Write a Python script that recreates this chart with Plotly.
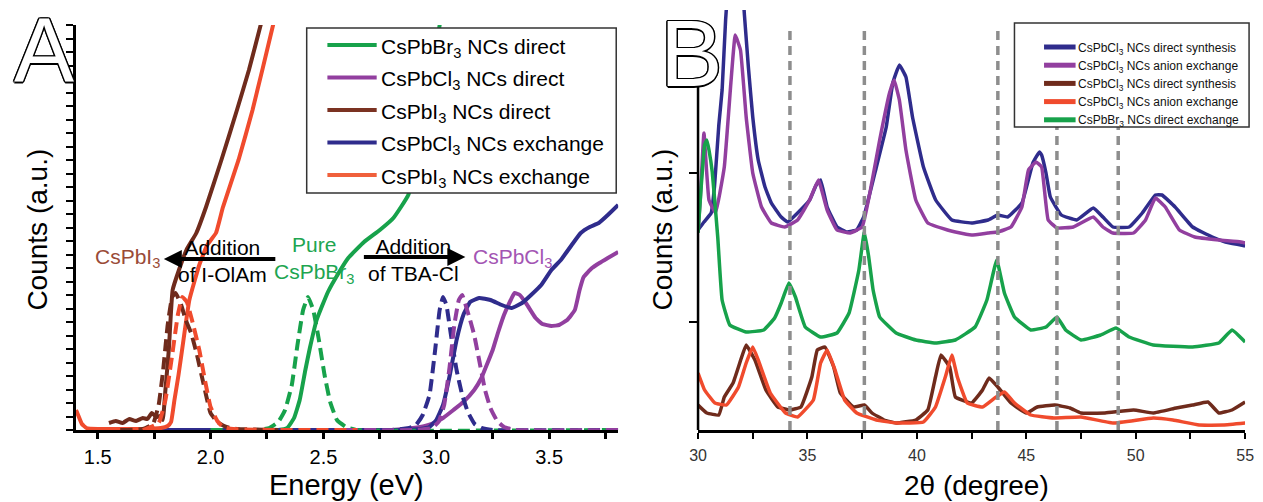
import plotly.graph_objects as go

W, H = 1263, 502
FONT = "Liberation Sans, Arial, sans-serif"

GREEN = "#17a24b"
PURPLE = "#923f9f"
BROWN = "#6f2b1c"
NAVY = "#2f2c8c"
RED = "#f04b2d"
GRAY = "#8d8d8d"

# ---------------- Panel A: absorption (solid) and PL (dashed) vs energy (eV) ----------------
br_abs_E = [1.55, 2.30, 2.34, 2.37, 2.395, 2.42, 2.44, 2.47, 2.52, 2.57, 2.61, 2.68, 2.75, 2.81, 2.876, 2.93, 2.97, 3.015, 3.04]
br_abs_I = [0, 0, 2, 12, 30, 60, 82, 110, 138, 158, 172, 188, 200, 212, 235, 290, 340, 405, 440]
br_pl_E = [2.00, 2.20, 2.26, 2.30, 2.33, 2.36, 2.385, 2.41, 2.432, 2.455, 2.48, 2.505, 2.53, 2.56, 2.60, 2.65, 3.806]
br_pl_I = [0, 0, 2, 8, 20, 45, 85, 120, 133, 120, 90, 55, 28, 10, 3, 0, 0]

cl_abs_E = [1.55, 2.80, 2.897, 2.95, 2.989, 3.03, 3.076, 3.12, 3.168, 3.20, 3.22, 3.25, 3.273, 3.30, 3.33,
            3.347, 3.37, 3.40, 3.44, 3.47, 3.51, 3.544, 3.58, 3.614, 3.635, 3.653, 3.69, 3.723, 3.76, 3.806]
cl_abs_I = [0, 0, 2, 4, 7, 12, 20, 28, 40, 52, 63, 80, 97, 115, 130,
            137, 135, 126, 112, 106, 104, 105, 110, 120, 140, 153, 162, 167, 172, 178]
cl_pl_E = [2.60, 2.90, 2.98, 3.01, 3.035, 3.059, 3.08, 3.10, 3.115, 3.13, 3.15, 3.168, 3.19, 3.216, 3.24, 3.27, 3.30, 3.35, 3.806]
cl_pl_I = [0, 0, 2, 8, 25, 63, 105, 130, 135, 125, 110, 95, 70, 40, 22, 9, 3, 0, 0]

i_abs_E = [1.55, 1.58, 1.61, 1.64, 1.67, 1.70, 1.72, 1.74, 1.76, 1.775, 1.788, 1.80, 1.815, 1.832, 1.86,
           1.893, 1.937, 1.98, 2.048, 2.117, 2.17, 2.222, 2.26]
i_abs_I = [7, 9, 7, 11, 9, 12, 11, 17, 13, 14, 10, 40, 80, 140, 160, 180, 197, 223, 270, 320, 360, 405, 440]
i_pl_E = [1.60, 1.70, 1.745, 1.77, 1.79, 1.81, 1.83, 1.845, 1.87, 1.89, 1.914, 1.94, 1.97, 2.0, 2.03, 2.07, 2.12, 2.30]
i_pl_I = [0, 1, 6, 25, 60, 105, 133, 137, 125, 110, 97, 75, 45, 17, 8, 3, 1, 0]

clx_abs_E = [1.55, 2.85, 2.93, 2.97, 3.0, 3.03, 3.06, 3.09, 3.12, 3.15, 3.19, 3.24, 3.29, 3.334, 3.38,
             3.42, 3.465, 3.51, 3.552, 3.60, 3.64, 3.68, 3.72, 3.76, 3.806]
clx_abs_I = [0, 0, 1, 3, 10, 25, 55, 90, 115, 128, 132, 130, 125, 122, 127,
             135, 145, 160, 170, 185, 197, 203, 207, 215, 225]
clx_pl_E = [2.60, 2.80, 2.88, 2.91, 2.94, 2.97, 2.995, 3.015, 3.03, 3.045, 3.065, 3.09, 3.115, 3.14, 3.17, 3.20, 3.25, 3.806]
clx_pl_I = [0, 0, 2, 5, 15, 35, 80, 120, 133, 125, 95, 60, 35, 18, 6, 2, 0, 0]

ix_abs_E = [1.404, 1.415, 1.43, 1.45, 1.50, 1.60, 1.70, 1.78, 1.81, 1.825, 1.84, 1.858, 1.88, 1.906, 1.95,
            1.985, 2.024, 2.055, 2.124, 2.186, 2.277, 2.31]
ix_abs_I = [20, 14, 6, 2, 1, 1, 1, 2, 4, 8, 30, 55, 90, 130, 165, 185, 197, 223, 270, 320, 405, 440]
ix_pl_E = [1.70, 1.77, 1.80, 1.83, 1.855, 1.875, 1.895, 1.92, 1.95, 1.975, 2.0, 2.03, 2.055, 2.1, 2.3, 2.65]
ix_pl_I = [0, 7, 30, 75, 115, 133, 128, 108, 80, 50, 23, 9, 3, 1, 0, 0]

energy_ticks = [1.5, 2.0, 2.5, 3.0, 3.5]

# ---------------- Panel B: XRD patterns vs 2-theta ----------------
cl_dir_2t = [30.0, 30.27, 30.6, 30.75, 30.95, 31.1, 31.26, 31.45, 31.7, 31.95, 32.12, 32.3, 32.5, 32.75, 33.06,
             33.35, 33.8, 34.1, 34.55, 35.1, 35.4, 35.6, 35.9, 36.35, 36.8, 37.25, 37.57, 38.15, 38.6, 38.9,
             39.2, 39.5, 39.8, 40.3, 40.86, 41.6, 42.5, 43.25, 43.7, 44.15, 44.8, 45.3, 45.6, 45.7, 45.9,
             46.1, 46.6, 47.3, 48.06, 48.5, 48.96, 49.7, 50.3, 50.9, 51.2, 51.8, 52.6, 53.5, 54.1, 54.8, 55.0]
cl_dir_I = [200, 208, 217, 243, 305, 340, 410, 470, 520, 470, 415, 363, 313, 270, 243,
            227, 213, 208, 217, 230, 245, 250, 223, 203, 198, 200, 213, 263, 303, 347,
            365, 353, 313, 263, 230, 210, 207, 210, 215, 213, 227, 267, 278, 275, 257,
            233, 215, 210, 222, 213, 203, 203, 217, 235, 235, 223, 203, 193, 188, 185, 184]

cl_ex_2t = [30.0, 30.1, 30.27, 30.5, 30.8, 31.2, 31.5, 31.7, 31.94, 32.2, 32.5, 32.9, 33.35, 33.96, 34.55,
            35.1, 35.5, 35.9, 36.35, 36.95, 37.5, 37.85, 38.3, 38.75, 38.96, 39.2, 39.5, 39.95, 40.5, 41.4,
            41.76, 42.5, 43.25, 43.7, 44.3, 44.8, 45.1, 45.45, 45.7, 46.0, 46.4, 47.15, 48.06, 48.5, 48.96,
            49.9, 50.45, 50.9, 51.35, 52.0, 52.7, 53.8, 54.8, 55.0]
cl_ex_I = [198, 230, 297, 230, 217, 263, 347, 395, 380, 313, 257, 223, 207, 203, 210,
           230, 250, 220, 200, 197, 203, 237, 290, 337, 350, 330, 280, 230, 207, 200,
           198, 195, 197, 198, 203, 223, 260, 268, 263, 210, 202, 203, 213, 203, 197,
           197, 210, 232, 223, 200, 193, 190, 188, 187]

br_2t = [30.0, 30.15, 30.3, 30.4, 30.5, 30.65, 30.9, 31.1, 31.45, 32.2, 33.0, 33.5, 33.8, 34.15, 34.45,
         34.9, 35.6, 36.35, 36.9, 37.35, 37.6, 37.8, 38.0, 38.3, 39.05, 39.95, 40.85, 41.76, 42.66, 43.2,
         43.65, 44.0, 44.46, 45.2, 45.9, 46.4, 46.8, 47.5, 48.4, 49.1, 49.7, 50.8, 52.6, 53.8, 54.4, 55.0]
br_I = [197, 245, 285, 290, 280, 258, 193, 130, 105, 98, 100, 112, 127, 147, 133,
        103, 93, 97, 117, 160, 198, 173, 140, 113, 97, 90, 87, 90, 103, 130,
        170, 137, 113, 100, 103, 113, 100, 90, 95, 102, 93, 85, 83, 87, 100, 88]

i_dir_2t = [30.0, 30.4, 30.95, 31.2, 31.6, 31.95, 32.2, 32.6, 33.1, 33.65, 34.2, 34.7, 35.2, 35.45, 35.8,
            36.2, 36.5, 37.1, 37.6, 37.95, 38.5, 39.05, 39.95, 40.5, 40.85, 41.1, 41.5, 41.76, 42.5, 43.0,
            43.3, 43.7, 44.3, 45.0, 45.5, 46.3, 47.0, 47.5, 48.6, 49.9, 50.8, 51.85, 52.6, 53.3, 53.8, 54.4, 55.0]
i_dir_I = [25, 17, 15, 33, 47, 70, 85, 70, 40, 23, 20, 23, 53, 80, 83,
           63, 37, 23, 25, 17, 10, 7, 10, 20, 53, 75, 63, 33, 27, 40,
           52, 43, 27, 17, 23, 25, 22, 17, 17, 20, 17, 22, 25, 28, 17, 20, 28]

i_ex_2t = [30.0, 30.3, 30.77, 31.3, 31.85, 32.2, 32.5, 32.75, 33.3, 34.0, 34.55, 35.27, 35.6, 35.9, 36.26,
           36.7, 37.25, 38.15, 39.05, 40.3, 40.85, 41.3, 41.6, 41.85, 42.3, 43.0, 43.56, 44.0, 44.46, 45.2,
           46.26, 47.5, 48.96, 50.8, 51.7, 52.9, 54.0, 55.0]
i_ex_I = [57, 40, 27, 25, 43, 67, 83, 70, 37, 17, 13, 30, 67, 80, 60,
          30, 17, 10, 7, 8, 23, 53, 75, 53, 27, 23, 32, 38, 27, 15,
          12, 13, 7, 12, 10, 5, 5, 7]

ref_2theta = [34.2, 37.6, 43.7, 46.4, 49.2]
ref_top = 405
two_theta_ticks = [30, 35, 40, 45, 50, 55]
xrd_ytick_vals = [108, 257]

# ---------------- legends ----------------
legend_a = [
    ("CsPbBr<sub>3</sub> NCs direct", GREEN),
    ("CsPbCl<sub>3</sub> NCs direct", PURPLE),
    ("CsPbI<sub>3</sub> NCs direct", "#7b3222"),
    ("CsPbCl<sub>3</sub> NCs exchange", NAVY),
    ("CsPbI<sub>3</sub> NCs exchange", "#f0603c"),
]
legend_b = [
    ("CsPbCl<sub>3</sub> NCs direct synthesis", NAVY),
    ("CsPbCl<sub>3</sub> NCs anion exchange", PURPLE),
    ("CsPbCl<sub>3</sub> NCs direct synthesis", BROWN),
    ("CsPbCl<sub>3</sub> NCs anion exchange", RED),
    ("CsPbBr<sub>3</sub> NCs direct exchange", GREEN),
]


def px(x):
    return x / W


def py(y):
    return 1 - y / H


fig = go.Figure()


def line(x, y, color, xa, ya, dash=None, width=4, smooth=0.35, name=None):
    fig.add_trace(go.Scatter(
        x=x, y=y, mode="lines", name=name, showlegend=False, hoverinfo="skip",
        line=dict(color=color, width=width, dash=dash, shape="spline", smoothing=smooth),
        xaxis=xa, yaxis=ya))


DASH = "12px,6px"
# Panel A traces
line(br_abs_E, br_abs_I, GREEN, "x", "y")
line(cl_abs_E, cl_abs_I, PURPLE, "x", "y")
line(clx_abs_E, clx_abs_I, NAVY, "x", "y")
line(i_abs_E, i_abs_I, BROWN, "x", "y")
line(ix_abs_E, ix_abs_I, RED, "x", "y")
line(br_pl_E, br_pl_I, GREEN, "x", "y", dash=DASH)
line(clx_pl_E, clx_pl_I, NAVY, "x", "y", dash=DASH)
line(cl_pl_E, cl_pl_I, PURPLE, "x", "y", dash=DASH)
line(i_pl_E, i_pl_I, BROWN, "x", "y", dash=DASH)
line(ix_pl_E, ix_pl_I, RED, "x", "y", dash=DASH)

# Panel B traces
line(cl_dir_2t, cl_dir_I, NAVY, "x2", "y2", width=3.5, smooth=0.3)
line(cl_ex_2t, cl_ex_I, PURPLE, "x2", "y2", width=3.5, smooth=0.3)
line(i_dir_2t, i_dir_I, BROWN, "x2", "y2", width=3.5, smooth=0.3)
line(i_ex_2t, i_ex_I, RED, "x2", "y2", width=3.5, smooth=0.3)
line(br_2t, br_I, GREEN, "x2", "y2", width=3.5, smooth=0.3)

ref_x, ref_y = [], []
for t in ref_2theta:
    ref_x += [t, t, None]
    ref_y += [0, ref_top, None]
fig.add_trace(go.Scatter(x=ref_x, y=ref_y, mode="lines", showlegend=False, hoverinfo="skip",
                         line=dict(color=GRAY, width=3.5, dash="9px,6px"), xaxis="x2", yaxis="y2"))

shapes = []
annotations = []


def note(text, x, y, size, color="black", **kw):
    d = dict(text=text, xref="paper", yref="paper", x=px(x), y=py(y), showarrow=False,
             xanchor="center", yanchor="middle", font=dict(family=FONT, size=size, color=color))
    d.update(kw)
    return d


# legend boxes and entries drawn on top of the curves
shapes.append(dict(type="rect", xref="paper", yref="paper", x0=px(302), x1=px(616), y0=py(193), y1=py(28),
                   fillcolor="white", line=dict(color="#333", width=1.5), layer="above"))
for i, (label, color) in enumerate(legend_a):
    yy = 45 + 32.5 * i
    shapes.append(dict(type="line", xref="paper", yref="paper", x0=px(323), x1=px(373), y0=py(yy), y1=py(yy),
                       line=dict(color=color, width=4), layer="above"))
    annotations.append(note(label, 375, yy + 3, 21, xanchor="left"))

shapes.append(dict(type="rect", xref="paper", yref="paper", x0=px(1020), x1=px(1258), y0=py(127), y1=py(23),
                   fillcolor="white", line=dict(color="#333", width=1.5), layer="above"))
for i, (label, color) in enumerate(legend_b):
    yy = 47 + 18.2 * i
    shapes.append(dict(type="line", xref="paper", yref="paper", x0=px(1050), x1=px(1082), y0=py(yy), y1=py(yy),
                       line=dict(color=color, width=5), layer="above"))
    annotations.append(note(label, 1082, yy + 1.5, 12, color="#111", xanchor="left"))

# left axis line of panel B stops below the panel letter
shapes.append(dict(type="line", xref="paper", yref="y2", x0=px(699), x1=px(699), y0=0, y1=343,
                   line=dict(color="black", width=2.5)))

# panel A labels and arrows
lab = dict(family=FONT, size=21)
annotations += [
    dict(text="CsPbI<sub>3</sub>", x=1.631, y=172, xref="x", yref="y", showarrow=False,
         xanchor="center", yanchor="middle", font=dict(lab, color="#9a4b37")),
    dict(text="Addition<br>of I-OlAm", x=2.055, y=169, xref="x", yref="y", showarrow=False,
         xanchor="center", yanchor="middle", font=dict(lab, color="black")),
    dict(text="Pure<br>CsPbBr<sub>3</sub>", x=2.461, y=170, xref="x", yref="y", showarrow=False,
         xanchor="center", yanchor="middle", font=dict(lab, color="#20a550")),
    dict(text="Addition<br>of TBA-Cl", x=2.897, y=170, xref="x", yref="y", showarrow=False,
         xanchor="center", yanchor="middle", font=dict(lab, color="black")),
    dict(text="CsPbCl<sub>3</sub>", x=3.339, y=172, xref="x", yref="y", showarrow=False,
         xanchor="center", yanchor="middle", font=dict(lab, color="#a355b3")),
    dict(text="", x=1.793, y=171, xref="x", yref="y", ax=113, ay=0, showarrow=True,
         arrowhead=2, arrowsize=0.9, arrowwidth=4, arrowcolor="black"),
    dict(text="", x=3.129, y=173, xref="x", yref="y", ax=-103, ay=0, showarrow=True,
         arrowhead=2, arrowsize=0.9, arrowwidth=4, arrowcolor="black"),
]

# axis titles
annotations += [
    note("Counts (a.u.)", 28, 230, 28, textangle=-90),
    note("Counts (a.u.)", 662, 230, 28, textangle=-90),
    note("Energy (eV)", 342, 485, 29),
    note("2θ (degree)", 981, 485, 28),
]

# outlined panel letters
outline = ("1.5px 0 0 #000, -1.5px 0 0 #000, 0 1.5px 0 #000, 0 -1.5px 0 #000, "
           "1px 1px 0 #000, -1px -1px 0 #000, 1px -1px 0 #000, -1px 1px 0 #000")
annotations += [
    note("A", 36, 50, 90, font=dict(family=FONT, size=90, color="white", shadow=outline)),
    note("B", 692, 53, 94, font=dict(family=FONT, size=94, color="white", shadow=outline)),
]

axis_common = dict(showgrid=False, zeroline=False, color="black")

fig.update_layout(
    width=W, height=H, autosize=False,
    margin=dict(l=0, r=0, t=0, b=0),
    paper_bgcolor="white", plot_bgcolor="white",
    showlegend=False,
    xaxis=dict(axis_common, domain=[px(68), px(618)], range=[1.404, 3.806], anchor="y",
               showline=True, linecolor="black", linewidth=2.5,
               tickmode="array", tickvals=energy_ticks, ticktext=[f"{v:.1f}" for v in energy_ticks],
               ticks="outside", ticklen=6, tickwidth=2.5, tickcolor="black", ticklabelstandoff=1,
               tickfont=dict(family=FONT, size=20, color="black"),
               minor=dict(dtick=0.25, tick0=1.5, ticks="outside", ticklen=6, tickwidth=2.5, tickcolor="black")),
    yaxis=dict(axis_common, domain=[py(430), py(25)], range=[0, 405], anchor="x",
               showline=True, linecolor="black", linewidth=2.5,
               tick0=0, dtick=13.5, ticks="outside", ticklen=7, tickwidth=2, tickcolor="black",
               showticklabels=False),
    xaxis2=dict(axis_common, domain=[px(699), px(1254)], range=[30, 55], anchor="y2",
                showline=True, linecolor="black", linewidth=2.5,
                tickmode="array", tickvals=two_theta_ticks,
                ticks="outside", ticklen=6, tickwidth=2, tickcolor="black", ticklabelstandoff=3,
                tickfont=dict(family=FONT, size=16, color="#333"),
                minor=dict(dtick=2.5, tick0=30, ticks="outside", ticklen=6, tickwidth=2, tickcolor="black")),
    yaxis2=dict(axis_common, domain=[py(430), py(10)], range=[0, 420], anchor="x2",
                showline=False, tickmode="array", tickvals=xrd_ytick_vals,
                ticks="outside", ticklen=8, tickwidth=2, tickcolor="black", showticklabels=False),
    shapes=shapes,
    annotations=annotations,
)

fig.write_html("out.html")
